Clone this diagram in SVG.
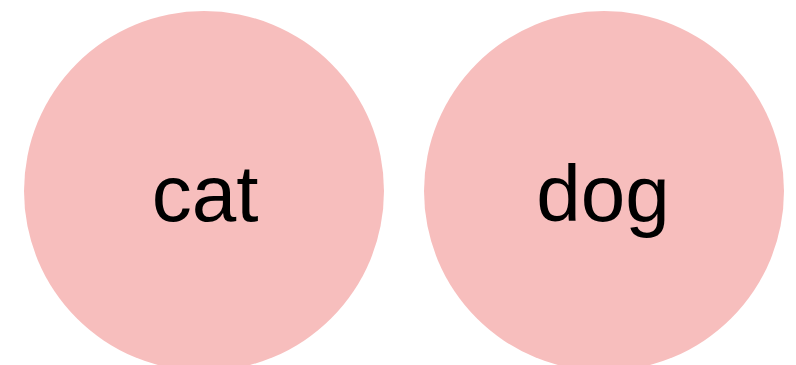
<svg xmlns="http://www.w3.org/2000/svg" width="796" height="365" viewBox="0 0 796 365">
<style>
.node circle{fill:#f7bebd;}
.node text{font-family:"Liberation Sans",Arial,sans-serif;font-size:80px;fill:#000;text-anchor:middle;}
</style>
<rect width="796" height="365" fill="#fff"/>
<g id="connectors"></g>
<g id="cat" class="node">
<circle cx="204" cy="191" r="180"/>
<text x="205" y="221">cat</text>
</g>
<g id="dog" class="node">
<circle cx="604" cy="191" r="180"/>
<text x="603" y="221">dog</text>
</g>
</svg>
